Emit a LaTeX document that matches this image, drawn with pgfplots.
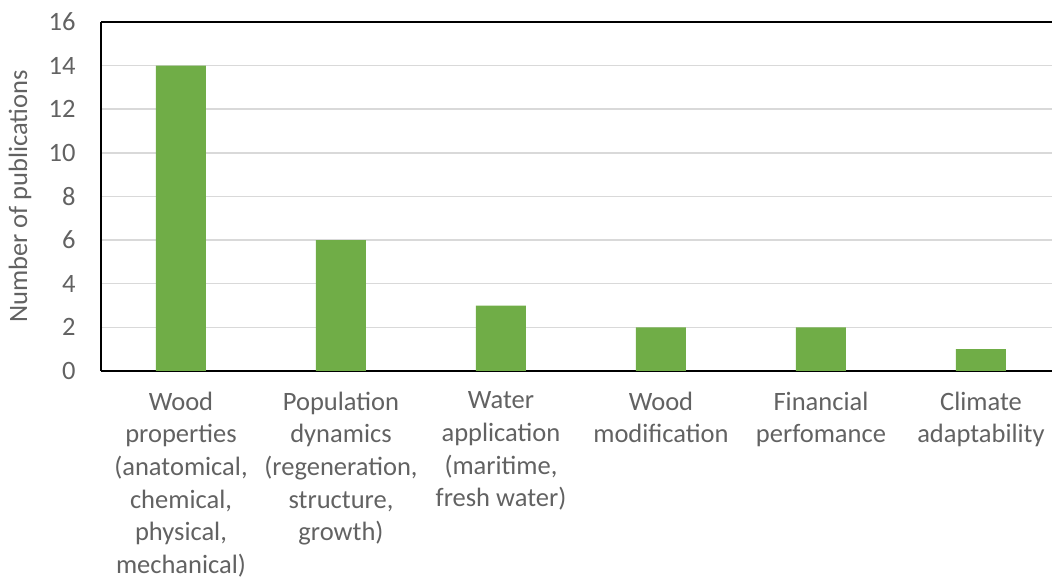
\documentclass[border=0pt]{standalone}
\usepackage{fontspec}
\setmainfont{Carlito}
\usepackage{pgfplots}
\pgfplotsset{compat=1.18}
\definecolor{bargreen}{HTML}{70AD47}
\definecolor{txtgray}{HTML}{626262}
\definecolor{gridgray}{HTML}{D9D9D9}
\begin{document}
\begin{tikzpicture}
\begin{axis}[
  at={(101pt,209pt)}, anchor=south west,
  scale only axis,
  width=951pt, height=349pt,
  xmin=-0.5, xmax=5.444,
  ymin=0, ymax=16,
  ytick={0,2,...,16},
  xtick=data,
  xticklabels={%
    {Wood\\properties\\(anatomical,\\chemical,\\physical,\\mechanical)},
    {Population\\dynamics\\(regeneration,\\structure,\\growth)},
    {Water\\application\\(maritime,\\fresh water)},
    {Wood\\modification},
    {Financial\\perfomance},
    {Climate\\adaptability}},
  axis x line*=box, axis y line*=left,
  axis line style={black, line width=2pt},
  tick style={draw=none},
  ymajorgrids, grid style={gridgray, line width=1.5pt},
  /pgf/number format/assume math mode=true,
  ticklabel style={font=\fontsize{26.5}{32.6}\selectfont, text=txtgray},
  xticklabel style={align=center, yshift=-13pt},
  yticklabel style={xshift=-22pt},
  ylabel={Number of publications},
  ylabel style={font=\fontsize{26.5}{30}\selectfont, text=txtgray,
    at={(axis description cs:0,0.5)}, anchor=center, yshift=81pt},
  ybar, bar width=50pt,
]
\addplot[fill=bargreen, draw=none] coordinates {(0,14) (1,6) (2,3) (3,2) (4,2) (5,1)};
\end{axis}
\pgfresetboundingbox
\path[use as bounding box] (0,0) rectangle (1052pt,580pt);
\end{tikzpicture}
\end{document}
